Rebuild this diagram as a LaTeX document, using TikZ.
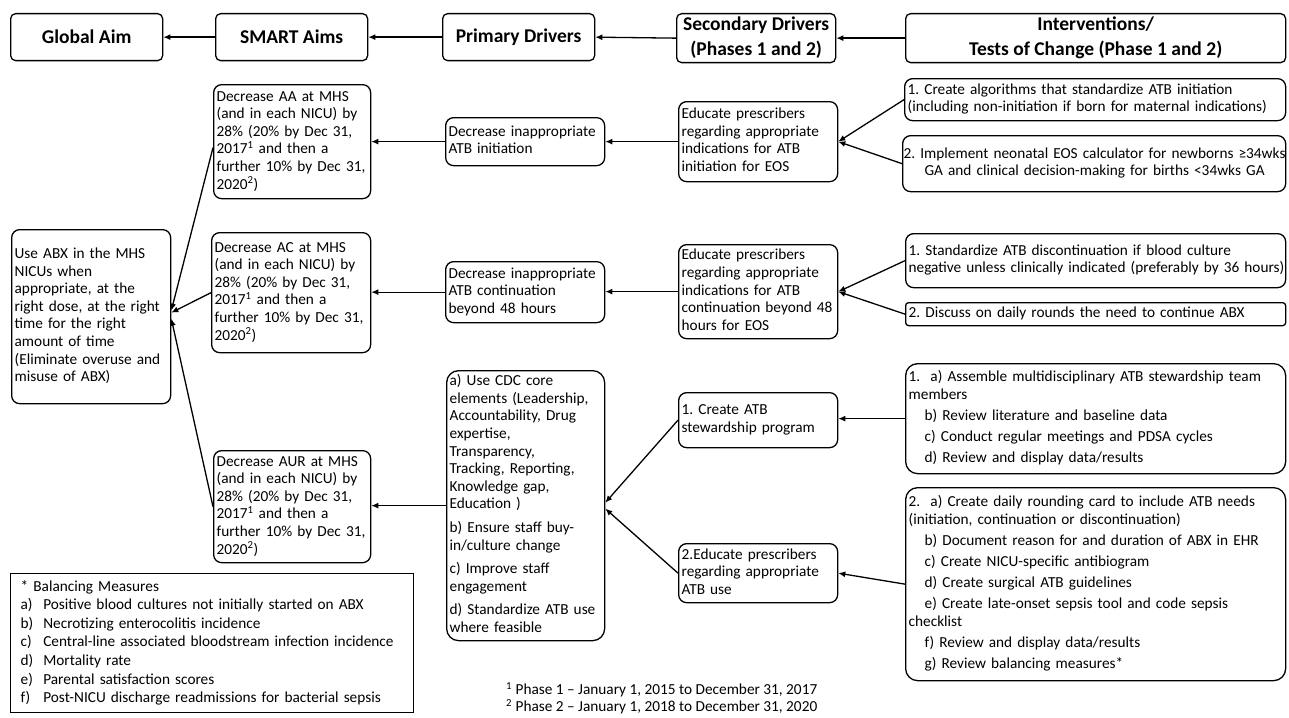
\documentclass[tikz,border=0pt]{standalone}
\usepackage{fontspec}
\setmainfont{Carlito}
\usetikzlibrary{arrows.meta}
\frenchspacing
\newcommand\bodyfont{\fontsize{15.3}{17.6}\selectfont}
\newcommand\headfont{\fontsize{19.5}{24.5}\selectfont\bfseries}
\newcommand\Lrows[1]{\begin{tabular}{@{}l@{}}#1\end{tabular}}
\newcommand\Crows[1]{\begin{tabular}{@{}c@{}}#1\end{tabular}}
\newcommand\ind{\hspace*{16pt}}
\begin{document}
\begin{tikzpicture}[x=1pt,y=-1pt,
  box/.style={draw, line width=1.3pt, rounded corners=8pt, inner xsep=3pt, inner ysep=0pt,
    anchor=north west, align=left, font=\bodyfont},
  bigbox/.style={box, rounded corners=12pt},
  hbox/.style={draw, line width=1.3pt, rounded corners=5pt, inner sep=0pt,
    anchor=north west, align=center, font=\headfont},
  arr/.style={-{Latex[length=7pt,width=6pt]}, line width=1.3pt},
]
\useasboundingbox (0,0) rectangle (1289,717);
\fill[white] (0,0) rectangle (1289,717);

% header row
\node[hbox, minimum width=152pt, minimum height=47pt] (gA) at (10,13) {Global Aim};
\node[hbox, minimum width=152pt, minimum height=47pt] (sA) at (215,13) {SMART Aims};
\node[hbox, minimum width=152pt, minimum height=47pt] (pD) at (442,13) {Primary Drivers};
\node[hbox, minimum width=159pt, minimum height=47pt] (sD) at (676,13) {\Crows{Secondary Drivers\\(Phases 1 and 2)}};
\node[hbox, minimum width=380pt, minimum height=47pt] (iT) at (905,13) {\Crows{Interventions/\\Tests of Change (Phase 1 and 2)}};

% global aim
\node[box, minimum width=159pt, text width=153pt, minimum height=174pt] (gaim) at (11,229)
  {\Lrows{Use ABX in the MHS\\NICUs when\\appropriate, at the\\right dose, at the right\\time for the right\\amount of time\\(Eliminate overuse and\\misuse of ABX)}};

% SMART aims
\node[box, minimum width=157pt, text width=151pt, minimum height=114pt] (AA) at (213,84)
  {\Lrows{Decrease AA at MHS\\(and in each NICU) by\\28\% (20\% by Dec 31,\\2017\textsuperscript{1} and then a\\further 10\% by Dec 31,\\2020\textsuperscript{2})}};
\node[box, minimum width=159pt, text width=153pt, minimum height=120pt] (AC) at (211,232)
  {\Lrows{Decrease AC at MHS\\(and in each NICU) by\\28\% (20\% by Dec 31,\\2017\textsuperscript{1} and then a\\further 10\% by Dec 31,\\2020\textsuperscript{2})}};
\node[box, minimum width=157pt, text width=151pt, minimum height=112pt] (AUR) at (213,450)
  {\Lrows{Decrease AUR at MHS\\(and in each NICU) by\\28\% (20\% by Dec 31,\\2017\textsuperscript{1} and then a\\further 10\% by Dec 31,\\2020\textsuperscript{2})}};

% primary drivers
\node[box, minimum width=159pt, text width=153pt, minimum height=48pt] (pr1) at (445,117)
  {\Lrows{Decrease inappropriate\\ATB initiation}};
\node[box, minimum width=159pt, text width=153pt, minimum height=61pt] (pr2) at (445,261)
  {\Lrows{Decrease inappropriate\\ATB continuation\\beyond 48 hours}};
\node[bigbox, minimum width=158pt, text width=152pt, minimum height=270pt] (cdc) at (446,370)
  {\Lrows{a) Use CDC core\\elements (Leadership,\\Accountability, Drug\\expertise,\\Transparency,\\Tracking, Reporting,\\Knowledge gap,\\Education )\\[6pt]b) Ensure staff buy-\\in/culture change\\[6pt]c) Improve staff\\engagement\\[6pt]d) Standardize ATB use\\where feasible}};

% secondary drivers
\node[box, minimum width=159pt, text width=153pt, minimum height=80pt] (ed1) at (678,101)
  {\Lrows{Educate prescribers\\regarding appropriate\\indications for ATB\\initiation for EOS}};
\node[box, minimum width=159pt, text width=153pt, minimum height=94pt] (ed2) at (678,244)
  {\Lrows{Educate prescribers\\regarding appropriate\\indications for ATB\\continuation beyond 48\\hours for EOS}};
\node[box, minimum width=159pt, text width=153pt, minimum height=55pt] (st1) at (678,392)
  {\Lrows{1. Create ATB\\stewardship program}};
\node[box, minimum width=159pt, text width=153pt, minimum height=59pt] (st2) at (678,543)
  {\Lrows{2.Educate prescribers\\regarding appropriate\\ATB use}};

% interventions
\node[box, minimum width=381pt, text width=375pt, minimum height=42pt] (i11) at (904,78)
  {\Lrows{1. Create algorithms that standardize ATB initiation\\(including non-initiation if born for maternal indications)}};
\node[box, align=center, inner xsep=1pt, minimum width=383pt, text width=381pt, minimum height=56pt] (i12) at (902,135)
  {\Crows{2. Implement neonatal EOS calculator for newborns ≥34wks\\GA and clinical decision-making for births <34wks GA}};
\node[box, minimum width=380pt, text width=374pt, minimum height=54pt] (i21) at (905,233)
  {\Lrows{1. Standardize ATB discontinuation if blood culture\\negative unless clinically indicated (preferably by 36 hours)}};
\node[box, rounded corners=3pt, minimum width=380pt, text width=374pt, minimum height=23pt] (i22) at (905,302)
  {\Lrows{2. Discuss on daily rounds the need to continue ABX}};
\node[bigbox, minimum width=380pt, text width=374pt, minimum height=110pt] (i31) at (905,363)
  {\Lrows{1.\ \ a) Assemble multidisciplinary ATB stewardship team\\members\\[3.5pt]\ind b) Review literature and baseline data\\[3.5pt]\ind c) Conduct regular meetings and PDSA cycles\\[3.5pt]\ind d) Review and display data/results}};
\node[bigbox, minimum width=380pt, text width=374pt, minimum height=193pt] (i32) at (905,487)
  {\Lrows{2.\ \ a) Create daily rounding card to include ATB needs\\(initiation, continuation or discontinuation)\\[3.5pt]\ind b) Document reason for and duration of ABX in EHR\\[3.5pt]\ind c) Create NICU-specific antibiogram\\[3.5pt]\ind d) Create surgical ATB guidelines\\[3.5pt]\ind e) Create late-onset sepsis tool and code sepsis\\checklist\\[3.5pt]\ind f) Review and display data/results\\[3.5pt]\ind g) Review balancing measures*}};

% balancing measures
\node[draw, line width=1.3pt, anchor=north west, inner xsep=10pt, inner ysep=0pt, align=left,
  minimum width=403pt, text width=383pt, minimum height=139pt,
  font=\fontsize{15.3}{18.6}\selectfont] (bal) at (10,573)
  {\begin{tabular}{@{}l@{\hspace{10pt}}l@{}}
   \multicolumn{2}{@{}l@{}}{* Balancing Measures}\\
   a) & Positive blood cultures not initially started on ABX\\
   b) & Necrotizing enterocolitis incidence\\
   c) & Central-line associated bloodstream infection incidence\\
   d) & Mortality rate\\
   e) & Parental satisfaction scores\\
   f) & Post-NICU discharge readmissions for bacterial sepsis
   \end{tabular}};

% footnotes
\node[anchor=west, inner sep=0pt, align=left, font=\fontsize{15.3}{17.2}\selectfont] (fn) at (506,699.5)
  {\Lrows{\textsuperscript{1} Phase 1 – January 1, 2015 to December 31, 2017\\\textsuperscript{2} Phase 2 – January 1, 2018 to December 31, 2020}};

% header arrows
\draw[arr] (sA.west) -- (gA.east);
\draw[arr] (pD.west) -- (sA.east);
\draw[arr] (sD.west) -- (pD.east);
\draw[arr] (iT.west) -- (sD.east);

% row 1
\draw[arr] (pr1.west) -- (pr1.west -| AA.east);
\draw[arr] (ed1.west) -- (ed1.west -| pr1.east);
\draw[arr] (i11.west) -- (ed1.east);
\draw[arr] (i12.west) -- (ed1.east);

% row 2
\draw[arr] (pr2.west) -- (pr2.west -| AC.east);
\draw[arr] (ed2.west) -- (ed2.west -| pr2.east);
\draw[arr] (i21.west) -- (ed2.east);
\draw[arr] (i22.west) -- (ed2.east);

% row 3
\draw[arr] (cdc.west) -- (cdc.west -| AUR.east);
\draw[arr] (i31.west) -- (i31.west -| st1.east);
\draw[arr] (i32.west) -- (st2.east);
\draw[arr] (st1.west) -- ([yshift=3pt]cdc.east);
\draw[arr] (st2.west) -- ([yshift=-3pt]cdc.east);

% to global aim
\draw[arr] ([yshift=-6pt]AA.west) -- ([yshift=6pt]gaim.east);
\draw[arr] (AC.west) -- ([yshift=4pt]gaim.east);
\draw[arr] (AUR.west) -- ([yshift=-2pt]gaim.east);
\end{tikzpicture}
\end{document}
